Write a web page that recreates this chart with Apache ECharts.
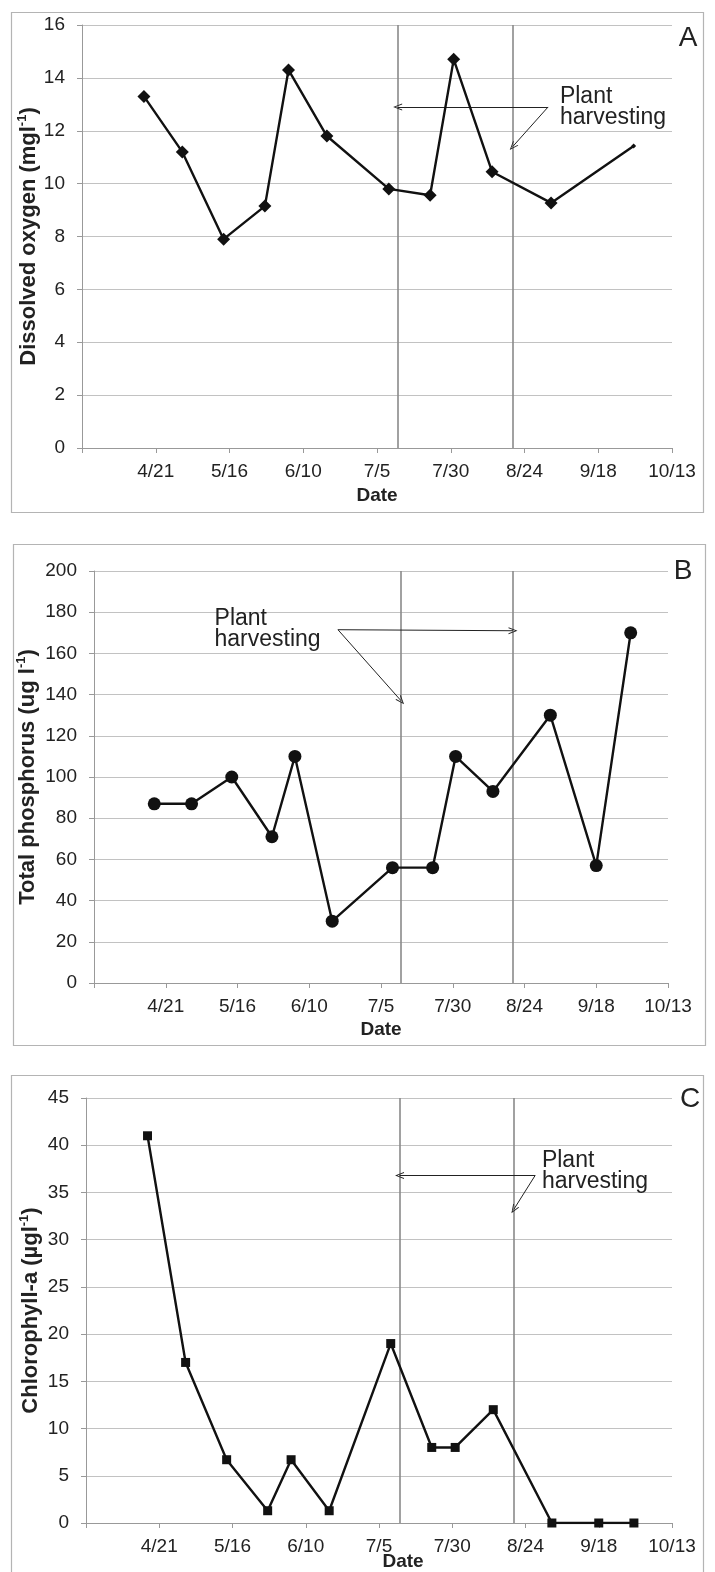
<!DOCTYPE html>
<html>
<head>
<meta charset="utf-8">
<script src="https://cdn.jsdelivr.net/npm/echarts@6/dist/echarts.min.js"></script>
<style>html,body{margin:0;padding:0;background:#fff}#chart{width:715px;height:1572px}</style>
</head>
<body>
<div id="chart"></div>
<script>
// ---------- data ----------
const sampleDates = ['4/17','4/30','5/14','5/28','6/5','6/18','7/9','7/23','7/31','8/13','9/2','9/18','9/30'];
const dissolvedOxygen = [13.3, 11.2, 7.9, 9.15, 14.3, 11.8, 9.8, 9.56, 14.7, 10.45, 9.27, null, 11.42];
const totalPhosphorus = [87, 87, 100, 71, 110, 30, 56, 56, 110, 93, 130, 57, 170];
const chlorophyllA = [41, 17, 6.7, 1.3, 6.7, 1.3, 19, 8, 8, 12, 0, 0, 0];
const harvestDates = ['7/12', '8/20'];
const xTickLabels = ['', '4/21', '5/16', '6/10', '7/5', '7/30', '8/24', '9/18', '10/13'];
const panelLetters = ['A', 'B', 'C'];
const yAxisNames = ['Dissolved oxygen (mgl{s|-1})', 'Total phosphorus (ug l{s|-1})', 'Chlorophyll-a (µgl{s|-1})'];
const yRanges = [[0, 16, 2], [0, 200, 20], [0, 45, 5]];
const annotationText = 'Plant\nharvesting';

// ---------- helpers ----------
const ORIGIN = Date.UTC(2011, 2, 27);   // axis starts 3/27, ticks every 25 days
function dayOf(md) {
  const p = md.split('/').map(Number);
  return Math.round((Date.UTC(2011, p[0] - 1, p[1]) - ORIGIN) / 86400000);
}
const harvestDays = harvestDates.map(dayOf);

// ---------- layout ----------
const FONT = '"Liberation Sans", Arial, sans-serif';
const grids = [
  {left: 82, top: 25, width: 590, height: 423},
  {left: 94, top: 571, width: 574, height: 412},
  {left: 86, top: 1098, width: 586, height: 425}
];
const boxes = [[11, 12, 692, 500], [13, 544, 692, 501], [11, 1075, 692, 520]];
const letterPos = [[688, 38], [683, 571], [690, 1099]];
const yNameGap = [40, 53, 42];
const xNameGap = [38, 37, 29];
const xNamePad = [0, 0, 48];
// annotation anchors in data space: text (left-middle), arrow origin, arrow targets
const annotations = [
  {text: [162, 12.9], from: [158, 12.9], to: [[harvestDays[0], 12.9], [harvestDays[1], 11.4]]},
  {text: [42, 172], from: [85, 171.5], to: [[harvestDays[1], 171], [harvestDays[0], 137]]},
  {text: [155.6, 37.3], from: [153.3, 36.8], to: [[harvestDays[0], 36.8], [harvestDays[1], 33.2]]}
];
const symbols = ['diamond', 'circle', 'rect'];
const symbolSizes = [13, 13, 9];
const seriesValues = [dissolvedOxygen, totalPhosphorus, chlorophyllA];
const CHEVRON = 'path://M5,0 L10,10 L8.6,10 L5,2.6 L1.4,10 L0,10 Z';

const xAxes = [], yAxes = [], series = [];
for (let i = 0; i < 3; i++) {
  xAxes.push({
    type: 'value', gridIndex: i, min: 0, max: 200, interval: 25,
    axisLine: {show: true, lineStyle: {color: '#999', width: 1}},
    axisTick: {show: true, length: 5, lineStyle: {color: '#999'}},
    splitLine: {show: false},
    axisLabel: {margin: 14, fontSize: 19, color: '#222', fontFamily: FONT,
      formatter: v => xTickLabels[Math.round(v / 25)] || ''},
    name: 'Date', nameLocation: 'middle', nameGap: xNameGap[i], nameMoveOverlap: false,
    nameTextStyle: {fontSize: 19, fontWeight: 'bold', color: '#222', fontFamily: FONT,
      padding: [0, 0, 0, xNamePad[i]]}
  });
  yAxes.push({
    type: 'value', gridIndex: i, min: yRanges[i][0], max: yRanges[i][1], interval: yRanges[i][2],
    axisLine: {show: true, lineStyle: {color: '#999', width: 1}},
    axisTick: {show: true, length: 5, lineStyle: {color: '#999'}},
    splitLine: {show: true, lineStyle: {color: '#c2c2c2', width: 1}},
    axisLabel: {margin: 17, fontSize: 19, color: '#222', fontFamily: FONT},
    name: yAxisNames[i], nameLocation: 'middle', nameGap: yNameGap[i], nameMoveOverlap: false,
    nameTextStyle: {fontSize: 22, fontWeight: 'bold', color: '#222', fontFamily: FONT,
      rich: {s: {fontSize: 13, fontWeight: 'bold', color: '#222', fontFamily: FONT, verticalAlign: 'top', lineHeight: 26}}}
  });
  const vals = seriesValues[i];
  const data = [];
  sampleDates.forEach((d, k) => {
    if (vals[k] === null) return;
    const item = {value: [dayOf(d), vals[k]]};
    if (i === 0 && k === sampleDates.length - 1) item.symbolSize = 5;
    data.push(item);
  });
  const a = annotations[i];
  series.push({
    type: 'line', xAxisIndex: i, yAxisIndex: i, data: data,
    symbol: symbols[i], symbolSize: symbolSizes[i], showSymbol: true,
    itemStyle: {color: '#111'}, lineStyle: {color: '#111', width: 2.4},
    animation: false, silent: true, z: 5,
    markLine: {
      silent: true, animation: false, symbol: ['none', 'none'],
      label: {show: false},
      data: harvestDays.map(d => ({xAxis: d, lineStyle: {color: '#8a8a8a', width: 1.6, type: 'solid'}}))
        .concat(a.to.map(t => [
          {coord: a.from, symbol: 'none', lineStyle: {color: '#222', width: 1, type: 'solid'}},
          {coord: t, symbol: CHEVRON, symbolSize: [7, 9]}
        ]))
    },
    markPoint: {
      silent: true, animation: false,
      data: [{coord: a.text, symbol: 'rect', symbolSize: 0,
        label: {show: true, position: 'right', distance: 0, formatter: annotationText,
          fontSize: 23, lineHeight: 21, color: '#222', fontFamily: FONT, align: 'left', verticalAlign: 'middle'}}]
    }
  });
}

const graphic = [];
boxes.forEach(b => graphic.push({type: 'rect', shape: {x: b[0] + 0.5, y: b[1] + 0.5, width: b[2], height: b[3]},
  style: {fill: 'none', stroke: '#b4b4b4', lineWidth: 1.2}, silent: true, z: 0}));
panelLetters.forEach((t, i) => graphic.push({type: 'text', x: letterPos[i][0], y: letterPos[i][1],
  style: {text: t, fontSize: 28, fontFamily: FONT, fill: '#222', align: 'center', verticalAlign: 'middle'}, z: 10}));

const chart = echarts.init(document.getElementById('chart'), null, {renderer: 'canvas'});
chart.setOption({
  animation: false,
  backgroundColor: '#fff',
  grid: grids,
  xAxis: xAxes,
  yAxis: yAxes,
  series: series,
  graphic: graphic
});
</script>
</body>
</html>
